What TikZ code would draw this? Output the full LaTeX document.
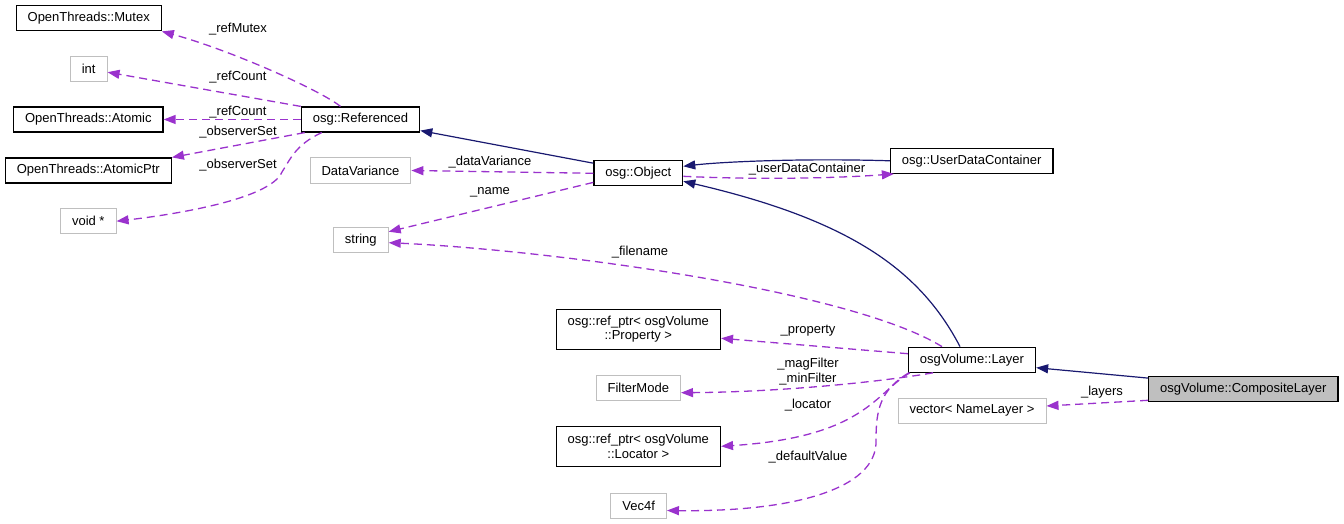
\documentclass[tikz,border=0pt]{standalone}
\usepackage{fontspec}
\setmainfont{Liberation Sans}
\usetikzlibrary{arrows.meta,positioning}

\definecolor{edgenavy}{HTML}{191970}
\definecolor{edgepurple}{HTML}{9A32CD}
\definecolor{boxgray}{HTML}{BFBFBF}

\tikzset{
  cls/.style={draw=black, line width=1.2pt, inner xsep=11.5pt, inner ysep=2pt,
    minimum height=25pt, font=\fontsize{13}{14.5}\selectfont, align=center},
  clsext/.style={cls, draw=boxgray, line width=1pt},
  clsmain/.style={cls, fill=boxgray},
  tall/.style={minimum height=40pt},
  memlabel/.style={inner sep=0pt, font=\fontsize{13}{15}\selectfont, align=center},
  inherit/.style={draw=edgenavy, line width=1.2pt, -{Triangle[length=12pt,width=9pt]}},
  member/.style={draw=edgepurple, line width=1.3pt, dash pattern=on 8pt off 5pt,
    -{Triangle[length=12pt,width=9pt]}},
}

\begin{document}
\begin{tikzpicture}[x=1pt,y=-1pt]
\useasboundingbox (0,0) rectangle (1344,524);
% classes
\node[cls] (cls_mutex) at (88.7,18.3) {OpenThreads::Mutex};
\node[clsext] (cls_int) at (88.7,69.2) {int};
\node[cls] (cls_atomic) at (88.3,119.5) {OpenThreads::Atomic};
\node[cls] (cls_atomicptr) at (88.3,170.5) {OpenThreads::AtomicPtr};
\node[clsext] (cls_voidptr) at (88.3,221.2) {void *};
\node[cls] (cls_referenced) at (360.5,119.5) {osg::Referenced};
\node[clsext] (cls_datavariance) at (360.5,170.5) {DataVariance};
\node[clsext] (cls_string) at (360.8,239.7) {string};
\node[cls] (cls_object) at (638.3,173.3) {osg::Object};
\node[cls] (cls_userdata) at (971.7,160.8) {osg::UserDataContainer};
\node[cls,tall] (cls_property) at (638.3,329.3) {osg::ref\_ptr< osgVolume\\::Property >};
\node[clsext] (cls_filtermode) at (638.3,387.7) {FilterMode};
\node[cls,tall] (cls_locator) at (638.3,446.3) {osg::ref\_ptr< osgVolume\\::Locator >};
\node[clsext] (cls_vec4f) at (638.7,505.5) {Vec4f};
\node[cls] (cls_layer) at (972,359.7) {osgVolume::Layer};
\node[clsext] (cls_vector) at (972,410.5) {vector< NameLayer >};
\node[clsmain] (cls_composite) at (1243.3,389.2) {osgVolume::CompositeLayer};
% member labels
\node[memlabel] (label_refmutex) at (238,29) {\_refMutex};
\node[memlabel] (label_refcount1) at (238,77) {\_refCount};
\node[memlabel] (label_refcount2) at (238,112) {\_refCount};
\node[memlabel] (label_observer1) at (238,132) {\_observerSet};
\node[memlabel] (label_observer2) at (238,165) {\_observerSet};
\node[memlabel] (label_datavar) at (490,162) {\_dataVariance};
\node[memlabel] (label_name) at (490,192) {\_name};
\node[memlabel] (label_userdata) at (807,169) {\_userDataContainer};
\node[memlabel] (label_filename) at (640,252) {\_filename};
\node[memlabel] (label_property) at (808,331) {\_property};
\node[memlabel] (label_filter) at (808,372) {\_magFilter\\\_minFilter};
\node[memlabel] (label_locator) at (808,405) {\_locator};
\node[memlabel] (label_default) at (808,457) {\_defaultValue};
\node[memlabel] (label_layers) at (1102,392) {\_layers};
% Referenced members
\draw[member] ([xshift=-20pt]cls_referenced.north) .. controls (320,90) and (230,50) .. (cls_mutex.south east);
\draw[member] (cls_referenced.north west) -- ([yshift=-3pt]cls_int.east);
\draw[member] (cls_referenced.west) -- (cls_atomic.east);
\draw[member] ([xshift=4pt]cls_referenced.south west) -- (cls_atomicptr.north east);
\draw[member] ([xshift=21pt]cls_referenced.south west) .. controls (295,145) and (290,160) .. (282,172)
  .. controls (270,200) and (170,215) .. (cls_voidptr.east);
% Object
\draw[inherit] ([yshift=-3pt]cls_object.north west) -- ([yshift=2pt]cls_referenced.south east);
\draw[member] (cls_object.west) -- (cls_datavariance.east);
\draw[member] ([yshift=4pt]cls_object.south west) -- ([yshift=-5pt]cls_string.north east);
\draw[inherit] (cls_userdata.west) .. controls (800,158) and (720,162) .. ([yshift=7pt]cls_object.east);
\draw[member] ([yshift=-3pt]cls_object.east) .. controls (760,180) and (840,178) .. ([xshift=4pt]cls_userdata.south west);
% Layer
\draw[inherit] ([xshift=-12pt]cls_layer.north) .. controls (920,270) and (850,220) .. ([yshift=-8pt]cls_object.east);
\draw[member] ([xshift=-30pt]cls_layer.north) .. controls (850,290) and (550,250) .. ([yshift=-3pt]cls_string.east);
\draw[member] ([yshift=6pt]cls_layer.west) -- ([yshift=-9pt]cls_property.east);
\draw[member] ([xshift=-39pt]cls_layer.south) .. controls (880,382) and (780,392) .. ([yshift=-5pt]cls_filtermode.east);
\draw[member] ([xshift=2pt]cls_layer.south west) .. controls (875,393) and (865,437) .. (cls_locator.east);
\draw[member] ([xshift=1pt]cls_layer.south west) .. controls (880,390) and (876,410) .. (876,440)
  .. controls (878,490) and (790,512) .. ([yshift=-5pt]cls_vec4f.east);
% CompositeLayer
\draw[inherit] ([yshift=-2pt]cls_composite.north west) -- ([yshift=-8pt]cls_layer.east);
\draw[member] ([yshift=2pt]cls_composite.south west) -- ([yshift=4.5pt]cls_vector.east);
\end{tikzpicture}
\end{document}
